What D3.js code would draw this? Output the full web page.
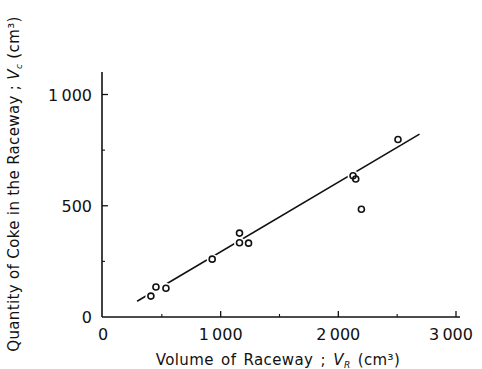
<!DOCTYPE html>
<html>
<head>
<meta charset="utf-8">
<script src="https://cdn.jsdelivr.net/npm/d3@7"></script>
<style>
  body { margin: 0; background: #fff; }
  text { font-family: "DejaVu Sans", "Liberation Sans", sans-serif; fill: #111; }
</style>
</head>
<body>
<div id="chart"></div>
<script>
// data
var volR = [407, 450, 535, 928, 1160, 1160, 1237, 2125, 2148, 2196, 2507];
var volC = [94, 135, 129, 260, 377, 334, 332, 635, 620, 484, 798];
// fitted line ends
var fitX = [290, 2690];
var fitY = [71, 822];
var xTicks = [0, 1000, 2000, 3000];
var xTickLabels = ["0", "1\u2009000", "2\u2009000", "3\u2009000"];
var xMinor = [500, 1500, 2500];
var yTicks = [0, 500, 1000];
var yTickLabels = ["0", "500", "1\u2009000"];
var yMinor = [250, 750];

function draw() {
    var w = 482;
    var h = 369;

    var svg = d3.select("#chart")
        .append("svg")
        .attr("width", w)
        .attr("height", h);

    var x = d3.scaleLinear().domain([0, 3000]).range([103, 456]);
    var y = d3.scaleLinear().domain([0, 1000]).range([317, 94.5]);

    var ax = svg.append("g").attr("stroke", "#111").attr("fill", "none");

    // axis lines
    ax.append("line")
        .attr("x1", 102).attr("x2", 102)
        .attr("y1", 72).attr("y2", y(0))
        .attr("stroke-width", 1.6);
    ax.append("line")
        .attr("x1", 102).attr("x2", 460)
        .attr("y1", y(0)).attr("y2", y(0))
        .attr("stroke-width", 1.6);

    // ticks point inward
    ax.selectAll(".xt")
        .data(xTicks.slice(1))
        .enter()
        .append("line")
        .attr("x1", function(d) { return x(d); })
        .attr("x2", function(d) { return x(d); })
        .attr("y1", y(0)).attr("y2", y(0) - 6)
        .attr("stroke-width", 1.3);
    ax.selectAll(".xm")
        .data(xMinor)
        .enter()
        .append("line")
        .attr("x1", function(d) { return x(d); })
        .attr("x2", function(d) { return x(d); })
        .attr("y1", y(0)).attr("y2", y(0) - 3)
        .attr("stroke-width", 1.1);
    ax.selectAll(".yt")
        .data(yTicks.slice(1))
        .enter()
        .append("line")
        .attr("x1", 102).attr("x2", 108)
        .attr("y1", function(d) { return y(d); })
        .attr("y2", function(d) { return y(d); })
        .attr("stroke-width", 1.3);
    ax.selectAll(".ym")
        .data(yMinor)
        .enter()
        .append("line")
        .attr("x1", 102).attr("x2", 105)
        .attr("y1", function(d) { return y(d); })
        .attr("y2", function(d) { return y(d); })
        .attr("stroke-width", 1.1);

    // tick labels
    svg.selectAll(".xl")
        .data(xTicks)
        .enter()
        .append("text")
        .attr("x", function(d, i) { return x(d) - (i == 3 ? 5 : 0); })
        .attr("y", 340)
        .attr("text-anchor", "middle")
        .attr("font-size", "16px")
        .text(function(d, i) { return xTickLabels[i]; });

    svg.selectAll(".yl")
        .data(yTicks)
        .enter()
        .append("text")
        .attr("x", 92)
        .attr("y", function(d) { return y(d) + 6; })
        .attr("text-anchor", "end")
        .attr("font-size", "16px")
        .text(function(d, i) { return yTickLabels[i]; });

    // axis titles
    var xt = svg.append("text")
        .attr("x", 278)
        .attr("y", 365)
        .attr("text-anchor", "middle")
        .attr("font-size", "15px")
        .attr("letter-spacing", "0.4px")
        .attr("word-spacing", "2px");
    xt.append("tspan").text("Volume of Raceway ; ");
    xt.append("tspan").attr("font-style", "italic").text("V");
    xt.append("tspan").attr("font-style", "italic").attr("font-size", "9px").attr("dy", 3).text("R");
    xt.append("tspan").attr("dy", -3).text(" (cm³)");

    var yt = svg.append("text")
        .attr("transform", "translate(19,184) rotate(-90)")
        .attr("text-anchor", "middle")
        .attr("font-size", "15px")
        .attr("letter-spacing", "0.35px");
    yt.append("tspan").text("Quantity of Coke in the Raceway ; ");
    yt.append("tspan").attr("font-style", "italic").text("V");
    yt.append("tspan").attr("font-style", "italic").attr("font-size", "9px").attr("dy", 3).text("c");
    yt.append("tspan").attr("dy", -3).text(" (cm³)");

    // fitted line
    svg.append("line")
        .attr("x1", x(fitX[0])).attr("y1", y(fitY[0]))
        .attr("x2", x(fitX[1])).attr("y2", y(fitY[1]))
        .attr("stroke", "#111")
        .attr("stroke-width", 1.6);

    var pts = volR.map(function(v, i) { return [v, volC[i]]; });

    // white halo to break the line at each point
    svg.selectAll(".halo")
        .data(pts)
        .enter()
        .append("circle")
        .attr("cx", function(d) { return x(d[0]); })
        .attr("cy", function(d) { return y(d[1]); })
        .attr("r", 5.5)
        .attr("fill", "#fff");

    svg.selectAll(".pt")
        .data(pts)
        .enter()
        .append("circle")
        .attr("cx", function(d) { return x(d[0]); })
        .attr("cy", function(d) { return y(d[1]); })
        .attr("r", 3)
        .attr("fill", "none")
        .attr("stroke", "#111")
        .attr("stroke-width", 1.6);
}
window.onload = draw;
</script>
</body>
</html>
